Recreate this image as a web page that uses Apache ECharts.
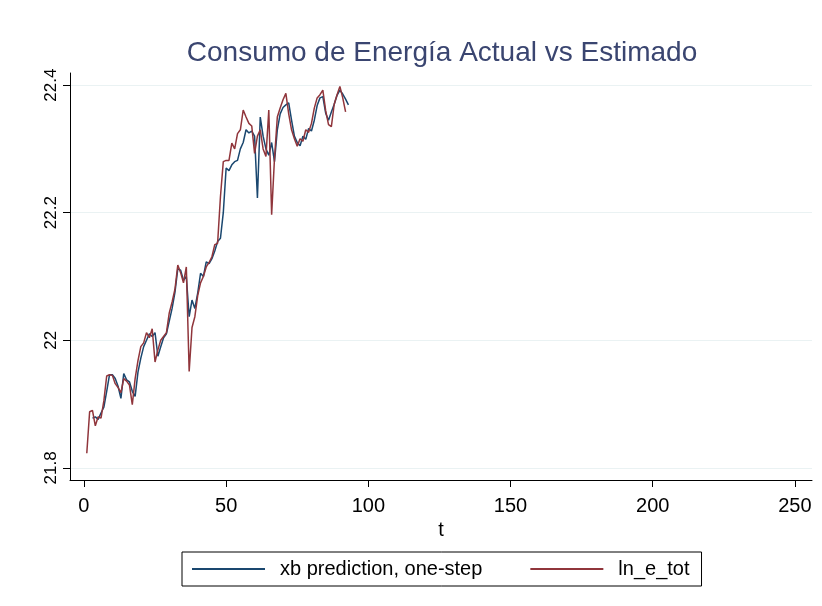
<!DOCTYPE html>
<html>
<head>
<meta charset="utf-8">
<title>Consumo de Energía Actual vs Estimado</title>
<script src="https://cdn.jsdelivr.net/npm/echarts@6/dist/echarts.min.js"></script>
<style>
  html, body { margin: 0; padding: 0; background: #fff; }
  #chart { width: 822px; height: 606px; }
</style>
</head>
<body>
<div id="chart"></div>
<script>
// t = 1..93
var tValues = [];
for (var i = 1; i <= 93; i++) tValues.push(i);

// ln_e_tot (observado), t = 1..92
var lnETot = [
  21.823, 21.888, 21.890, 21.866, 21.880, 21.878, 21.905, 21.944, 21.946, 21.945,
  21.932, 21.926, 21.918, 21.940, 21.936, 21.930, 21.899, 21.940, 21.968, 21.990,
  21.996, 22.012, 22.004, 22.018, 21.966, 21.985, 22.000, 22.006, 22.012, 22.043,
  22.060, 22.080, 22.118, 22.106, 22.090, 22.115, 21.951, 22.020, 22.037, 22.070,
  22.090, 22.100, 22.115, 22.122, 22.131, 22.150, 22.152, 22.225, 22.280, 22.282,
  22.282, 22.309, 22.300, 22.324, 22.330, 22.361, 22.350, 22.340, 22.336, 22.293,
  22.320, 22.330, 22.300, 22.288, 22.361, 22.197, 22.285, 22.350, 22.364, 22.377,
  22.387, 22.355, 22.330, 22.316, 22.304, 22.316, 22.312, 22.330, 22.326, 22.340,
  22.364, 22.380, 22.385, 22.392, 22.360, 22.338, 22.335, 22.370, 22.385, 22.398,
  22.380, 22.358, null
];

// xb prediction, one-step, t = 1..93
var xbPred = [
  null, null, 21.878, 21.880, 21.876, 21.886, 21.895, 21.920, 21.946, 21.946,
  21.940, 21.928, 21.909, 21.948, 21.938, 21.935, 21.920, 21.912, 21.950, 21.972,
  21.990, 22.000, 22.010, 22.006, 22.012, 21.975, 21.990, 22.004, 22.010, 22.030,
  22.050, 22.075, 22.112, 22.110, 22.094, 22.100, 22.037, 22.063, 22.050, 22.074,
  22.105, 22.100, 22.123, 22.120, 22.128, 22.140, 22.155, 22.160, 22.200, 22.270,
  22.266, 22.275, 22.280, 22.282, 22.300, 22.310, 22.330, 22.325, 22.328, 22.320,
  22.223, 22.350, 22.320, 22.300, 22.290, 22.310, 22.280, 22.330, 22.355, 22.365,
  22.369, 22.372, 22.345, 22.320, 22.310, 22.305, 22.320, 22.315, 22.332, 22.328,
  22.345, 22.368, 22.380, 22.382, 22.356, 22.345, 22.358, 22.370, 22.384, 22.392,
  22.386, 22.378, 22.369
];

var xTicks = [0, 50, 100, 150, 200, 250];
var yTicks = [21.8, 22, 22.2, 22.4];

function pairs(vals) {
  return tValues.map(function (t, k) { return [t, vals[k]]; });
}

var fontFam = '"Liberation Sans", Arial, sans-serif';
var chart = echarts.init(document.getElementById('chart'), null, { renderer: 'canvas' });

chart.setOption({
  backgroundColor: '#ffffff',
  animation: false,
  title: {
    text: 'Consumo de Energía Actual vs Estimado',
    left: 437,
    textAlign: 'center',
    top: 34,
    textStyle: { color: '#3a4570', fontSize: 28, fontWeight: 'normal', fontFamily: fontFam }
  },
  grid: { left: 70, right: 10, top: 73, bottom: 126, containLabel: false },
  legend: {
    bottom: 20,
    left: 182,
    itemWidth: 73,
    itemHeight: 2,
    itemGap: 48,
    padding: [7, 12, 7, 10],
    borderColor: '#000',
    borderWidth: 1,
    icon: 'rect',
    textStyle: { fontSize: 20, color: '#000', fontFamily: fontFam, padding: [0, 0, 0, 10] },
    data: ['xb prediction, one-step', 'ln_e_tot']
  },
  xAxis: {
    type: 'value',
    min: -4.9,
    max: 256,
    name: 't',
    nameLocation: 'middle',
    nameGap: 35,
    nameTextStyle: { fontSize: 20, color: '#000', fontFamily: fontFam },
    axisLine: { show: true, onZero: false, lineStyle: { color: '#000', width: 1 } },
    axisTick: { show: true, length: 7, customValues: xTicks, lineStyle: { color: '#000' } },
    axisLabel: { customValues: xTicks, margin: 16, fontSize: 20, color: '#000', fontFamily: fontFam },
    splitLine: { show: false }
  },
  yAxis: {
    type: 'value',
    min: 21.781,
    max: 22.419,
    axisLine: { show: true, onZero: false, lineStyle: { color: '#000', width: 1 } },
    axisTick: { show: true, length: 7, customValues: yTicks, lineStyle: { color: '#000' } },
    axisLabel: { customValues: yTicks, rotate: 90, margin: 10, fontSize: 17, color: '#000', fontFamily: fontFam },
    splitLine: { show: true, lineStyle: { color: '#eaf2f3', width: 1 } }
  },
  series: [
    {
      name: 'xb prediction, one-step',
      type: 'line',
      data: pairs(xbPred),
      showSymbol: false,
      connectNulls: false,
      lineStyle: { color: '#1a476f', width: 1.5 },
      itemStyle: { color: '#1a476f' }
    },
    {
      name: 'ln_e_tot',
      type: 'line',
      data: pairs(lnETot),
      showSymbol: false,
      connectNulls: false,
      lineStyle: { color: '#90353b', width: 1.5 },
      itemStyle: { color: '#90353b' }
    }
  ]
});
</script>
</body>
</html>
